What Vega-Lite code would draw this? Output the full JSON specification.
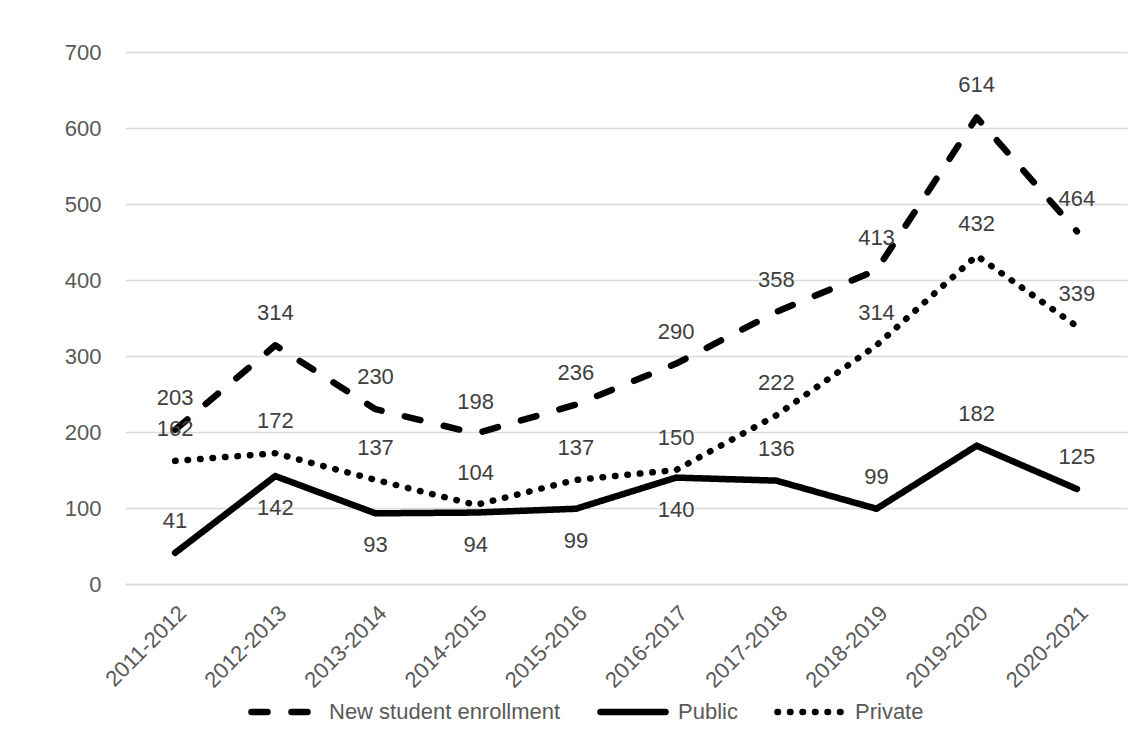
{
  "$schema": "https://vega.github.io/schema/vega-lite/v6.json",
  "autosize": {"type": "none"},
  "padding": {"left": 125, "top": 52, "right": 18, "bottom": 160},
  "width": 1002,
  "height": 532,
  "background": "white",
  "config": {
    "view": {"stroke": null},
    "font": "Liberation Sans"
  },
  "data": {
    "values": [
      {"year": "2011-2012", "series": "New student enrollment", "value": 203},
      {"year": "2012-2013", "series": "New student enrollment", "value": 314},
      {"year": "2013-2014", "series": "New student enrollment", "value": 230},
      {"year": "2014-2015", "series": "New student enrollment", "value": 198},
      {"year": "2015-2016", "series": "New student enrollment", "value": 236},
      {"year": "2016-2017", "series": "New student enrollment", "value": 290},
      {"year": "2017-2018", "series": "New student enrollment", "value": 358},
      {"year": "2018-2019", "series": "New student enrollment", "value": 413},
      {"year": "2019-2020", "series": "New student enrollment", "value": 614},
      {"year": "2020-2021", "series": "New student enrollment", "value": 464},
      {"year": "2011-2012", "series": "Public", "value": 41},
      {"year": "2012-2013", "series": "Public", "value": 142},
      {"year": "2013-2014", "series": "Public", "value": 93},
      {"year": "2014-2015", "series": "Public", "value": 94},
      {"year": "2015-2016", "series": "Public", "value": 99},
      {"year": "2016-2017", "series": "Public", "value": 140},
      {"year": "2017-2018", "series": "Public", "value": 136},
      {"year": "2018-2019", "series": "Public", "value": 99},
      {"year": "2019-2020", "series": "Public", "value": 182},
      {"year": "2020-2021", "series": "Public", "value": 125},
      {"year": "2011-2012", "series": "Private", "value": 162},
      {"year": "2012-2013", "series": "Private", "value": 172},
      {"year": "2013-2014", "series": "Private", "value": 137},
      {"year": "2014-2015", "series": "Private", "value": 104},
      {"year": "2015-2016", "series": "Private", "value": 137},
      {"year": "2016-2017", "series": "Private", "value": 150},
      {"year": "2017-2018", "series": "Private", "value": 222},
      {"year": "2018-2019", "series": "Private", "value": 314},
      {"year": "2019-2020", "series": "Private", "value": 432},
      {"year": "2020-2021", "series": "Private", "value": 339}
    ]
  },
  "encoding": {
    "x": {
      "field": "year",
      "type": "ordinal",
      "sort": null,
      "scale": {"type": "point", "padding": 0.5},
      "axis": {
        "title": null,
        "labelAngle": -45,
        "labelFontSize": 22,
        "labelColor": "#595959",
        "labelPadding": 18,
        "ticks": false,
        "grid": false,
        "domainColor": "#d9d9d9",
        "domainWidth": 1.5
      }
    },
    "y": {
      "field": "value",
      "type": "quantitative",
      "scale": {"domain": [0, 700], "nice": false},
      "axis": {
        "title": null,
        "values": [0, 100, 200, 300, 400, 500, 600, 700],
        "labelFontSize": 22,
        "labelColor": "#595959",
        "labelPadding": 24,
        "ticks": false,
        "domain": false,
        "gridColor": "#d9d9d9",
        "gridWidth": 1.5
      }
    }
  },
  "layer": [
    {
      "mark": {"type": "line", "color": "black", "strokeWidth": 6.5, "strokeCap": "round", "strokeJoin": "round"},
      "encoding": {
        "strokeDash": {
          "field": "series",
          "type": "nominal",
          "scale": {
            "domain": ["New student enrollment", "Public", "Private"],
            "range": [[16, 24], [1, 0], [0.5, 12]]
          },
          "legend": {
            "title": null,
            "orient": "none",
            "legendX": 123,
            "legendY": 624,
            "direction": "horizontal",
            "symbolType": "stroke",
            "symbolSize": 4225,
            "symbolStrokeWidth": 6.5,
            "symbolStrokeColor": "black",
            "labelFontSize": 22,
            "labelColor": "#595959",
            "labelLimit": 400,
            "labelOffset": 9,
            "columnPadding": 26,
            "encode": {"symbols": {"update": {"strokeCap": {"value": "round"}}}}
          }
        }
      }
    },
    {
      "transform": [
        {"filter": "!(datum.series === 'Public' && indexof(['2012-2013','2013-2014','2014-2015','2015-2016','2016-2017'], datum.year) >= 0)"}
      ],
      "mark": {"type": "text", "baseline": "middle", "align": "center", "dy": -32, "fontSize": 22, "color": "#404040"},
      "encoding": {"text": {"field": "value", "type": "quantitative"}}
    },
    {
      "transform": [
        {"filter": "datum.series === 'Public' && indexof(['2012-2013','2013-2014','2014-2015','2015-2016','2016-2017'], datum.year) >= 0"}
      ],
      "mark": {"type": "text", "baseline": "middle", "align": "center", "dy": 32, "fontSize": 22, "color": "#404040"},
      "encoding": {"text": {"field": "value", "type": "quantitative"}}
    }
  ]
}
